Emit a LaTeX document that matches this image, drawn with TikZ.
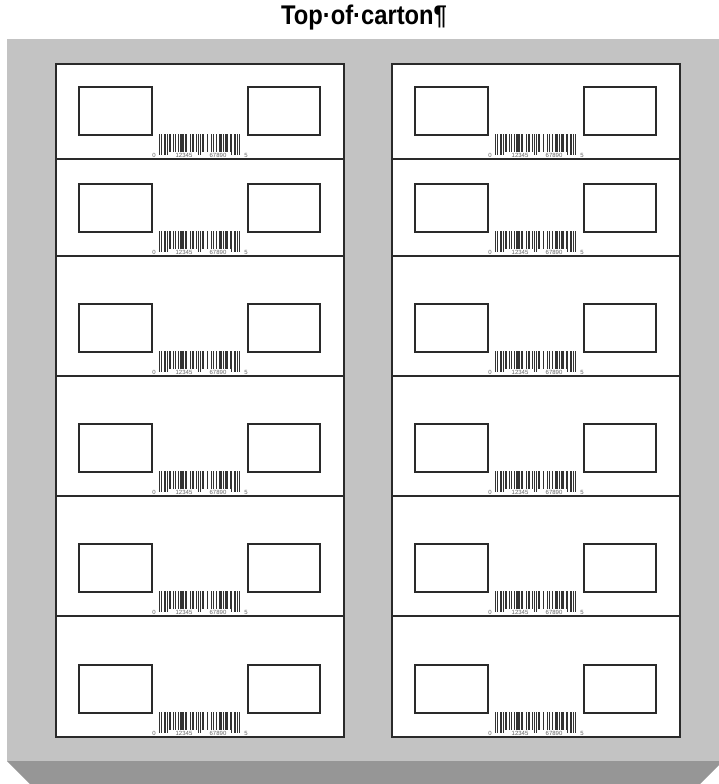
\documentclass[tikz,border=0pt]{standalone}
\usepackage{fontspec}
\setmainfont{Liberation Sans}

\definecolor{cartontop}{HTML}{C3C3C3}
\definecolor{cartonside}{HTML}{969696}
\definecolor{labeledge}{HTML}{2A2A2A}

\begin{document}
\begin{tikzpicture}[x=1pt,y=-1pt,
    labelbox/.style={draw=labeledge,fill=white,line width=1.6pt},
    infobox/.style={draw=labeledge,line width=1.4pt},
    bar/.style={fill=black!80},
    digits/.style={text=black!60,font=\fontsize{6}{6}\selectfont,inner sep=0pt}]
    \useasboundingbox (0,0) rectangle (719,784);

    % carton
    \fill[cartontop] (7,39) rectangle (719,761);
    \fill[cartonside] (7,761) -- (719,761) -- (719,765) -- (700,784) -- (30,784) -- cycle;
    \node[font=\bfseries\fontsize{27}{27}\selectfont,xscale=0.88] (title) at (364,18) {Top·of·carton¶};

    % labels, two columns of six
    \foreach \col in {56,392} {
        \foreach \top/\bot in {64/159,159/256,256/376,376/496,496/616,616/737} {
            \draw[labelbox] (\col,\top) rectangle (\col+288,\bot);
            \draw[infobox] (\col+23,\bot-72) rectangle (\col+96,\bot-24);
            \draw[infobox] (\col+192,\bot-72) rectangle (\col+264,\bot-24);
            % barcode 0 12345 67890 5
            \foreach \m/\w/\l in {0/1/1,2/1/1,6/2/1,9/1/1,12/2/0,16/1/0,19/1/0,22/2/0,
                                  25/4/0,30/1/0,32/1/0,36/2/0,39/2/0,44/1/0,46/1/1,48/1/1,
                                  50/1/0,52/1/0,57/1/0,61/1/0,64/1/0,67/1/0,71/3/0,75/1/0,
                                  78/3/0,83/1/0,85/1/1,88/3/1,92/1/1,94/1/1}
                \fill[bar] (\col+103+\m*0.85,\bot-25) rectangle ++(\w*0.85,18+\l*3);
            \node[digits] (first-\col-\top) at (\col+98,\bot-4) {0};
            \node[digits] (left-\col-\top) at (\col+128,\bot-4) {12345};
            \node[digits] (right-\col-\top) at (\col+162,\bot-4) {67890};
            \node[digits] (last-\col-\top) at (\col+190,\bot-4) {5};
        }
    }
\end{tikzpicture}
\end{document}
